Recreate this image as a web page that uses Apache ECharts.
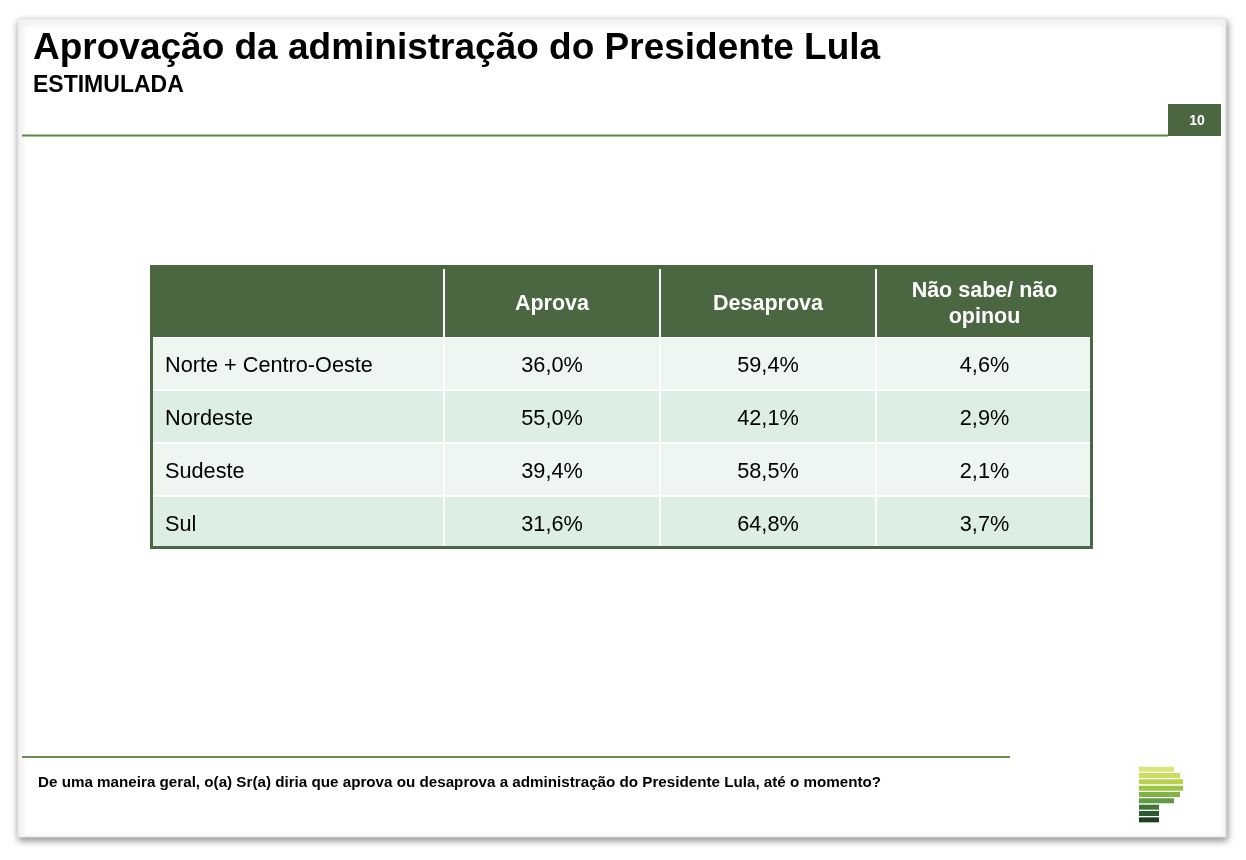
<!DOCTYPE html>
<html>
<head>
<meta charset="utf-8">
<script src="https://cdn.jsdelivr.net/npm/echarts@6/dist/echarts.min.js"></script>
<style>
  html, body { margin: 0; padding: 0; background: #ffffff; }
  #chart { width: 1246px; height: 860px; }
</style>
</head>
<body>
<div id="chart"></div>
<script>
// ---- data ----
var titleText = 'Aprovação da administração do Presidente Lula';
var subtitleText = 'ESTIMULADA';
var pageNumber = '10';
var questionText = 'De uma maneira geral, o(a) Sr(a) diria que aprova ou desaprova a administração do Presidente Lula, até o momento?';
var regions = ['Norte + Centro-Oeste', 'Nordeste', 'Sudeste', 'Sul'];
var columnHeaders = ['Aprova', 'Desaprova', 'Não sabe/ não\nopinou'];
var aprova = [36.0, 55.0, 39.4, 31.6];
var desaprova = [59.4, 42.1, 58.5, 64.8];
var naoSabe = [4.6, 2.9, 2.1, 3.7];
var logoBarWidths = [35, 41, 44, 44, 41, 35, 20, 20, 20];

// ---- layout / style ----
var FONT = "'Liberation Sans', Arial, Helvetica, sans-serif";
var GREEN = '#4A6741';
var colEdges = [0, 0.3118, 0.5408, 0.7699, 1];
var rowEdges = [0, 0.2535, 0.4401, 0.6268, 0.8134, 1];
var rowColors = ['#EEF6F1', '#DDEEE4'];
var logoColors = ['#DCE47C', '#CDDC62', '#B8D24C', '#9CC543', '#7FB445', '#5F9B47', '#417536', '#2D5A2C', '#1C401F'];

function fmt(v) { return v.toFixed(1).replace('.', ',') + '%'; }

var seriesCols = [aprova, desaprova, naoSabe];
var cells = [];
cells.push({ col: 0, row: 0, text: '' });
columnHeaders.forEach(function (h, i) { cells.push({ col: i + 1, row: 0, text: h }); });
regions.forEach(function (name, r) {
  cells.push({ col: 0, row: r + 1, text: name });
  seriesCols.forEach(function (arr, i) {
    cells.push({ col: i + 1, row: r + 1, text: fmt(arr[r]) });
  });
});
var nCols = colEdges.length - 1, nRows = rowEdges.length - 1;
var B = 3;

function renderCell(params, api) {
  var cell = cells[params.dataIndex];
  var c = cell.col, r = cell.row;
  var p0 = api.coord([colEdges[c], rowEdges[r]]);
  var p1 = api.coord([colEdges[c + 1], rowEdges[r + 1]]);
  var x0 = p0[0], y0 = p0[1], x1 = p1[0], y1 = p1[1];
  var children = [];
  if (r === 0) {
    if (c > 0) {
      children.push({ type: 'rect', shape: { x: x0 - 1, y: y0 + B + 1, width: 2, height: y1 - y0 - B - 1 }, style: { fill: '#ffffff' } });
    }
    children.push({
      type: 'text',
      style: { text: cell.text, x: (x0 + x1) / 2, y: (y0 + y1) / 2 + 3.5, align: 'center', verticalAlign: 'middle',
        fill: '#ffffff', font: 'bold 21.5px ' + FONT, lineHeight: 26 }
    });
  } else {
    var xa = x0 + (c === 0 ? B : 0), xb = x1 - (c === nCols - 1 ? B : 0);
    var ya = y0, yb = y1 - (r === nRows - 1 ? B : 0);
    children.push({ type: 'rect', shape: { x: xa, y: ya, width: xb - xa, height: yb - ya }, style: { fill: '#ffffff' } });
    var ia = xa + (c === 0 ? 0 : 1), ib = xb - (c === nCols - 1 ? 0 : 1);
    var ja = ya + 1, jb = yb - (r === nRows - 1 ? 0 : 1);
    children.push({ type: 'rect', shape: { x: ia, y: ja, width: ib - ia, height: jb - ja }, style: { fill: rowColors[(r - 1) % 2] } });
    children.push({
      type: 'text',
      style: { text: cell.text, x: c === 0 ? x0 + 15 : (x0 + x1) / 2, y: (y0 + y1) / 2 + 2.5,
        align: c === 0 ? 'left' : 'center', verticalAlign: 'middle', fill: '#000000', font: '21.7px ' + FONT }
    });
  }
  return { type: 'group', children: children };
}

var chart = echarts.init(document.getElementById('chart'), null, { renderer: 'canvas' });
chart.setOption({
  animation: false,
  backgroundColor: '#ffffff',
  graphic: [
    { type: 'rect', z: -10, shape: { x: 18, y: 19, width: 1208, height: 818 },
      style: { fill: '#ffffff', stroke: '#e2e2e2', lineWidth: 1, shadowBlur: 7, shadowOffsetX: 1, shadowOffsetY: 3, shadowColor: 'rgba(0,0,0,0.45)' } },
    { type: 'text', style: { text: titleText, x: 33, y: 48.5, verticalAlign: 'middle', fill: '#000000', font: 'bold 37px ' + FONT } },
    { type: 'text', style: { text: subtitleText, x: 33, y: 85.5, verticalAlign: 'middle', fill: '#000000', font: 'bold 23px ' + FONT } },
    { type: 'line', shape: { x1: 22, y1: 135.5, x2: 1168, y2: 135.5 }, style: { stroke: '#5B8A3E', lineWidth: 2 } },
    { type: 'rect', shape: { x: 1168, y: 104, width: 53, height: 32 }, style: { fill: GREEN } },
    { type: 'text', style: { text: pageNumber, x: 1197, y: 121.5, align: 'center', verticalAlign: 'middle', fill: '#ffffff', font: 'bold 14px ' + FONT } },
    { type: 'line', shape: { x1: 22, y1: 757, x2: 1010, y2: 757 }, style: { stroke: '#6C8F55', lineWidth: 2 } },
    { type: 'text', style: { text: questionText, x: 38, y: 783, verticalAlign: 'middle', fill: '#000000', font: 'bold 15.2px ' + FONT } }
  ],
  grid: [
    { left: 150, top: 265, width: 943, height: 284, show: true, backgroundColor: GREEN, borderWidth: 0 },
    { left: 1139, top: 766, width: 45, height: 57, show: false }
  ],
  xAxis: [
    { gridIndex: 0, type: 'value', min: 0, max: 1, show: false },
    { gridIndex: 1, type: 'value', min: 0, max: 45, show: false }
  ],
  yAxis: [
    { gridIndex: 0, type: 'value', min: 0, max: 1, inverse: true, show: false },
    { gridIndex: 1, type: 'category', inverse: true, show: false, data: logoBarWidths.map(function (v, i) { return 'b' + i; }) }
  ],
  series: [
    { type: 'custom', xAxisIndex: 0, yAxisIndex: 0, renderItem: renderCell, clip: false,
      data: cells.map(function (c) { return [c.col, c.row]; }), silent: true },
    { type: 'bar', xAxisIndex: 1, yAxisIndex: 1, barWidth: 5, silent: true,
      data: logoBarWidths.map(function (v, i) { return { value: v, itemStyle: { color: logoColors[i] } }; }) }
  ]
});
</script>
</body>
</html>
